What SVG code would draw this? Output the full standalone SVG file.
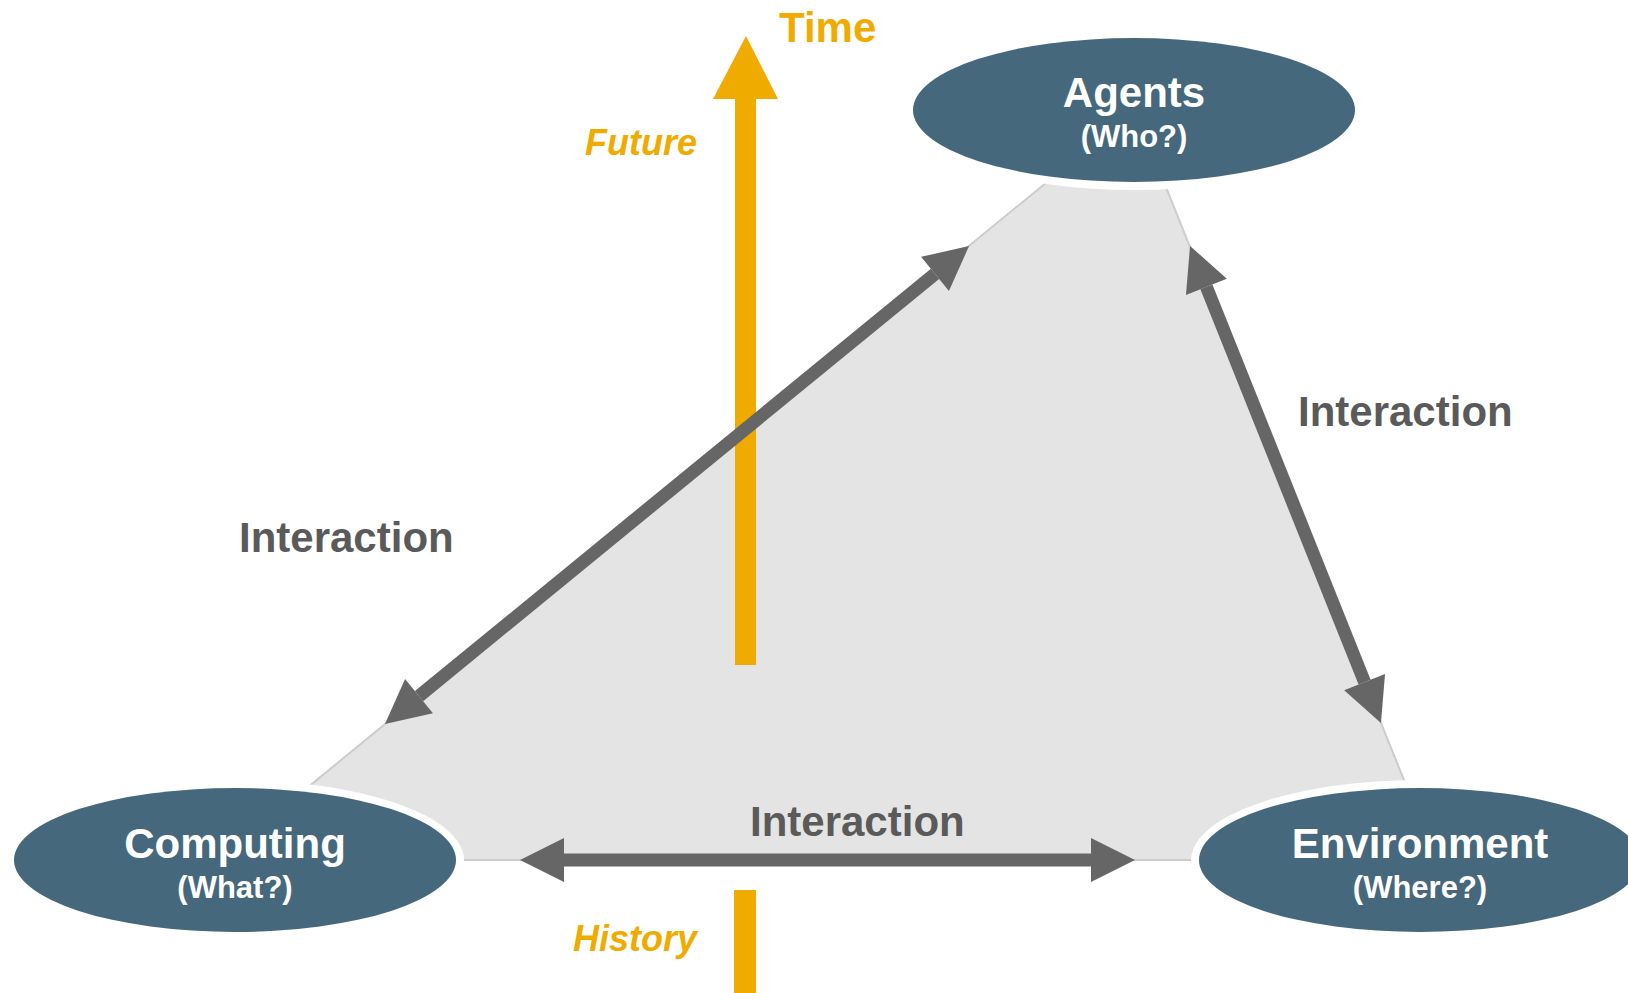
<svg xmlns="http://www.w3.org/2000/svg" width="1628" height="993" viewBox="0 0 1628 993">
<style>
text{font-family:"Liberation Sans",Arial,sans-serif;font-weight:bold}
.node{fill:#45687D}
.halo{fill:#FFFFFF}
.title{font-size:42px;fill:#FFFFFF;text-anchor:middle}
.sub{font-size:31px;fill:#FFFFFF;text-anchor:middle}
.lbl{font-size:42px;fill:#5A5A5A}
.time{fill:#F0AB00}
.timelbl{font-size:36px;fill:#F0AB00;font-style:italic;text-anchor:end}
.conn{stroke:#666666;stroke-width:13;fill:none;marker-start:url(#head);marker-end:url(#head)}
</style>
<defs>
<marker id="head" markerUnits="userSpaceOnUse" markerWidth="46" markerHeight="46" refX="0" refY="0" viewBox="0 -23 46 46" orient="auto-start-reverse" overflow="visible">
<path d="M0,-22 L44,0 L0,22 Z" fill="#666666"/>
</marker>
</defs>
<rect width="1628" height="993" fill="#FFFFFF"/>
<g id="triangle">
<polygon points="1135,110 219,860 1436,860" fill="#E4E4E4" stroke="#CCCCCC" stroke-width="2"/>
</g>
<g id="time-axis">
<polygon class="time" points="746,36 713,99 778,99"/>
<rect class="time" x="735" y="98" width="21" height="567"/>
<rect class="time" x="734" y="890" width="22" height="103"/>
<text x="779" y="42" style="font-size:42px;fill:#F0AB00">Time</text>
<text class="timelbl" x="697" y="155">Future</text>
<text class="timelbl" x="697" y="951">History</text>
</g>
<g id="connectors">
<line class="conn" x1="419" y1="696.1" x2="935" y2="273.9"/>
<line class="conn" x1="1206.4" y1="286.8" x2="1364.6" y2="682.2"/>
<line class="conn" x1="564" y1="860" x2="1091" y2="860"/>
<text class="lbl" x="239" y="552">Interaction</text>
<text class="lbl" x="1298" y="426">Interaction</text>
<text class="lbl" x="750" y="836">Interaction</text>
</g>
<g id="agents">
<ellipse class="halo" cx="1134" cy="110" rx="229" ry="80"/>
<ellipse class="node" cx="1134" cy="110" rx="221" ry="72"/>
<text class="title" x="1134" y="107">Agents</text>
<text class="sub" x="1134" y="147">(Who?)</text>
</g>
<g id="computing">
<ellipse class="halo" cx="235" cy="860" rx="229" ry="80"/>
<ellipse class="node" cx="235" cy="860" rx="221" ry="72"/>
<text class="title" x="235" y="858">Computing</text>
<text class="sub" x="235" y="898">(What?)</text>
</g>
<g id="environment">
<ellipse class="halo" cx="1420" cy="860" rx="229" ry="80"/>
<ellipse class="node" cx="1420" cy="860" rx="221" ry="72"/>
<text class="title" x="1420" y="858">Environment</text>
<text class="sub" x="1420" y="898">(Where?)</text>
</g>
</svg>
